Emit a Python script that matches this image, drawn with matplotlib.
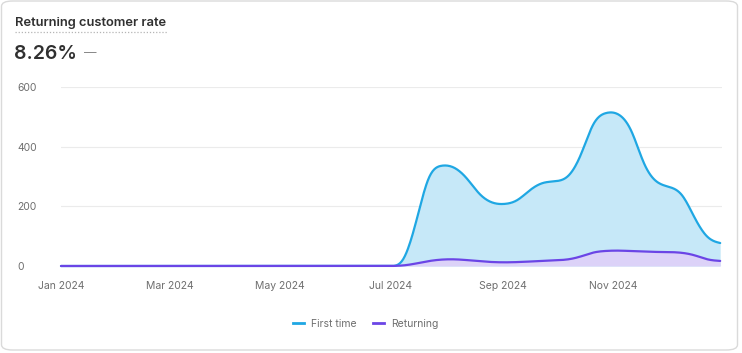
import numpy as np
import pandas as pd
import matplotlib
matplotlib.use("Agg")
import matplotlib.pyplot as plt
import matplotlib.dates as mdates
from matplotlib.lines import Line2D
from matplotlib.patches import FancyBboxPatch

plt.rcParams["font.family"] = ["Inter", "DejaVu Sans"]

# weekly buckets (week starting Monday)
weeks = pd.date_range("2024-01-01", "2024-12-30", freq="7D")

first_time = [0] * 26 + [
    0, 0, 140, 320, 340, 335, 298, 237, 209, 206, 216, 257, 282,
    283, 291, 363, 493, 517, 515, 466, 330, 275, 266, 249, 157, 88, 77,
]
returning = [0] * 26 + [
    0, 1, 8, 17, 22, 23, 20, 16, 13, 12, 13, 15, 17,
    19, 21, 31, 47, 51, 52, 50, 48, 47, 47, 45, 37, 20, 17,
]

title = "Returning customer rate"
headline = "8.26%"
series_names = ["First time", "Returning"]
colors = ["#1FA7E3", "#6B45E6"]
fills = ["#C6E8F8", "#DCD2F8"]


def basis(x, y, n=16):
    # uniform cubic b-spline, endpoints clamped (like d3 curveBasis)
    px = np.concatenate([[x[0]] * 2, x, [x[-1]] * 2]).astype(float)
    py = np.concatenate([[y[0]] * 2, y, [y[-1]] * 2]).astype(float)
    u = np.linspace(0, 1, n, endpoint=False)
    b0 = (1 - u) ** 3 / 6
    b1 = (3 * u**3 - 6 * u**2 + 4) / 6
    b2 = (-3 * u**3 + 3 * u**2 + 3 * u + 1) / 6
    b3 = u**3 / 6
    xs, ys = [], []
    for i in range(1, len(px) - 2):
        xs.append(b0 * px[i - 1] + b1 * px[i] + b2 * px[i + 1] + b3 * px[i + 2])
        ys.append(b0 * py[i - 1] + b1 * py[i] + b2 * py[i + 1] + b3 * py[i + 2])
    xs.append([x[-1]])
    ys.append([y[-1]])
    return np.concatenate(xs), np.concatenate(ys)


fig = plt.figure(figsize=(7.42, 3.53), dpi=100)

# card outline
card = FancyBboxPatch((1.5 / 742, 3 / 353), 736 / 742, 349 / 353,
                      boxstyle="round,pad=0,rounding_size=0.015",
                      transform=fig.transFigure, facecolor="white",
                      edgecolor="#DADADA", linewidth=1.0, zorder=-5)
fig.patches.append(card)

ax = fig.add_axes([61 / 742, 1 - 266 / 353, 661 / 742, 179 / 353])

xnum = mdates.date2num(weeks)
for vals, c, fc, name in zip([first_time, returning], colors, fills, series_names):
    xs, ys = basis(xnum, vals)
    ax.fill_between(xs, 0, ys, color=fc, lw=0)
    ax.plot(xs, ys, color=c, lw=1.6, solid_capstyle="round", clip_on=False, label=name)

ax.set_xlim(xnum[0], xnum[-1] + 1)
ax.set_ylim(0, 600)
ax.set_yticks([0, 200, 400, 600])
ax.xaxis.set_major_locator(mdates.MonthLocator(bymonth=[1, 3, 5, 7, 9, 11]))
ax.xaxis.set_major_formatter(mdates.DateFormatter("%b %Y"))
ax.grid(axis="y", color="#EBEBEB", lw=0.8)
ax.grid(axis="x", visible=False)
ax.set_axisbelow(True)
for sp in ax.spines.values():
    sp.set_visible(False)
ax.tick_params(length=0, labelsize=7.5, colors="#6E6E6E")
ax.tick_params(axis="x", pad=11)
for lbl in ax.get_yticklabels():
    lbl.set_horizontalalignment("left")
ax.tick_params(axis="y", pad=31.5)

# header
fig.text(15 / 742, 1 - 23 / 353, title, fontsize=9.3, fontweight="semibold",
         color="#303030", va="center", ha="left")
fig.add_artist(Line2D([15 / 742, 168 / 742], [1 - 32 / 353, 1 - 32 / 353],
                      transform=fig.transFigure, color="#B5B5B5", lw=0.9,
                      linestyle=(0, (1, 1.5))))
fig.text(14 / 742, 1 - 54 / 353, headline, fontsize=14, fontweight="semibold",
         color="#303030", va="center", ha="left")
fig.text(84 / 742, 1 - 53 / 353, "\u2014", fontsize=9, color="#8A8A8A",
         va="center", ha="left")

handles = [Line2D([0], [0], color=c, lw=2) for c in colors]
leg = fig.legend(handles, series_names, loc="center", ncol=2,
                 bbox_to_anchor=(366 / 742, 1 - 324 / 353), frameon=False,
                 fontsize=7.5, handlelength=1.0, handletextpad=0.7,
                 columnspacing=1.6)
for t in leg.get_texts():
    t.set_color("#6E6E6E")

fig.savefig("out.png", dpi=100)
